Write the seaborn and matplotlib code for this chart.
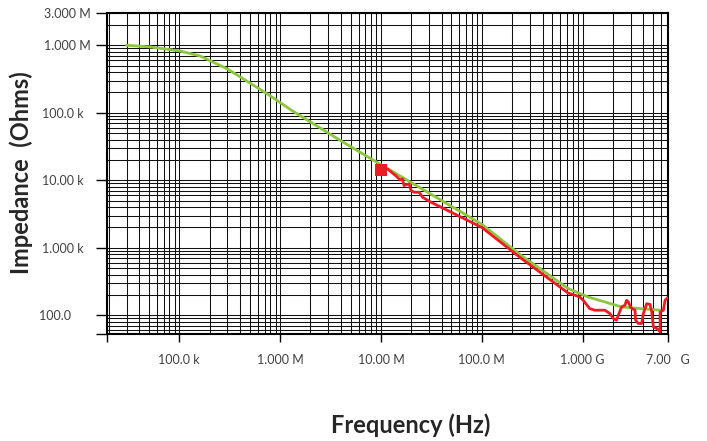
import numpy as np
import pandas as pd
import matplotlib
matplotlib.use("Agg")
import matplotlib.pyplot as plt
import matplotlib.ticker as mticker
import seaborn as sns

# values (Hz, Ohms)
green_freq = [30e3, 51e3, 100e3, 160e3, 299e3, 747e3, 1.32e6, 4.0e6, 10e6,
              100e6, 245e6, 718e6, 1.13e9, 2.43e9, 5.83e9]
green_imp = [1.0e6, 945e3, 824e3, 695e3, 447e3, 190e3, 107e3, 38.5e3, 17.0e3,
             2.23e3, 772, 249, 187, 133, 119]

red_freq = [9.93e6, 11.6e6, 14.0e6, 15.5e6, 16.3e6, 16.9e6, 19.0e6, 19.8e6, 21.3e6,
            23.9e6, 25.8e6, 31.3e6, 100e6, 245e6, 716e6, 803e6, 934e6, 1.01e9,
            1.17e9, 1.32e9, 1.66e9, 1.86e9, 2.01e9, 2.16e9, 2.25e9, 2.43e9, 2.62e9,
            2.72e9, 2.83e9, 3.0e9, 3.30e9, 3.34e9, 3.55e9, 3.84e9, 3.99e9, 4.31e9,
            4.65e9, 4.83e9, 5.02e9, 5.42e9, 5.85e9, 5.85e9, 6.31e9, 6.55e9, 6.92e9]
red_imp = [14.4e3, 14.7e3, 11.7e3, 10.1e3, 10.5e3, 8.36e3, 8.85e3, 7.05e3, 6.65e3,
           6.65e3, 5.61e3, 4.73e3, 2.0e3, 700, 214, 203, 187, 167,
           126, 119, 119, 106, 89.7, 84.8, 100, 133, 141,
           167, 158, 130, 119, 84.8, 75.7, 75.7, 106, 149,
           145, 112, 67.5, 63.8, 56.9, 112, 119, 167, 181]

x_ticks = [19.2e3, 1e5, 1e6, 1e7, 1e8, 1e9, 7e9]
x_labels = ["", "100.0 k", "1.000 M", "10.00 M", "100.0 M", "1.000 G", "7.00   G"]
y_ticks = [52, 100, 1e3, 1e4, 1e5, 1e6, 3e6]
y_labels = ["", "100.0      ", "1.000 k  ", "10.00 k  ", "100.0 k  ", "1.000 M", "3.000 M"]

green_df = pd.DataFrame({"freq": green_freq, "imp": green_imp})
red_df = pd.DataFrame({"freq": red_freq, "imp": red_imp})

sns.set_style("white")
plt.rcParams["font.family"] = ["Lato", "DejaVu Sans"]

fig = plt.figure(figsize=(7.07, 4.41), dpi=100)
ax = fig.add_axes([0.1513, 0.2415, 0.7935, 0.729])

sns.lineplot(data=green_df, x="freq", y="imp", color="#8DC63F", lw=2.0,
             sort=False, estimator=None, ax=ax, zorder=3)
sns.lineplot(data=red_df, x="freq", y="imp", color="#ED1C24", lw=2.0,
             sort=False, estimator=None, ax=ax, zorder=4)
# square marker at the start of the red trace
sns.scatterplot(data=red_df.iloc[:1], x="freq", y="imp", color="#ED1C24",
                marker="s", s=85, linewidth=0, ax=ax, zorder=5)

ax.set_xscale("log")
ax.set_yscale("log")
ax.set_xlim(x_ticks[0], x_ticks[-1])
ax.set_ylim(y_ticks[0], y_ticks[-1])

ax.xaxis.set_major_locator(mticker.FixedLocator(x_ticks))
ax.xaxis.set_major_formatter(mticker.FixedFormatter(x_labels))
ax.yaxis.set_major_locator(mticker.FixedLocator(y_ticks))
ax.yaxis.set_major_formatter(mticker.FixedFormatter(y_labels))
ax.xaxis.set_minor_locator(mticker.LogLocator(base=10, subs=range(2, 10), numticks=20))
ax.yaxis.set_minor_locator(mticker.LogLocator(base=10, subs=range(2, 10), numticks=20))
ax.xaxis.set_minor_formatter(mticker.NullFormatter())
ax.yaxis.set_minor_formatter(mticker.NullFormatter())

ax.grid(which="both", color="#111111", lw=0.75)
ax.tick_params(axis="x", which="major", direction="out", length=6, width=1,
               pad=8, labelsize=9, colors="black", labelcolor="#404040")
ax.tick_params(axis="y", which="major", direction="out", length=8, width=1,
               pad=4, labelsize=9, colors="black", labelcolor="#404040")
ax.tick_params(which="minor", length=0)
ax.xaxis.set_ticks_position("bottom")
ax.yaxis.set_ticks_position("left")

for s in ax.spines.values():
    s.set_color("black")
    s.set_linewidth(1.5)

ax.set_xlabel("Frequency (Hz)", fontsize=17, fontweight="bold", color="#262626")
ax.set_ylabel("Impedance  (Ohms)", fontsize=17, fontweight="bold", color="#262626")
ax.xaxis.set_label_coords(0.542, -0.244)
ax.yaxis.set_label_coords(-0.132, 0.505)

fig.savefig("out.png", dpi=100)
